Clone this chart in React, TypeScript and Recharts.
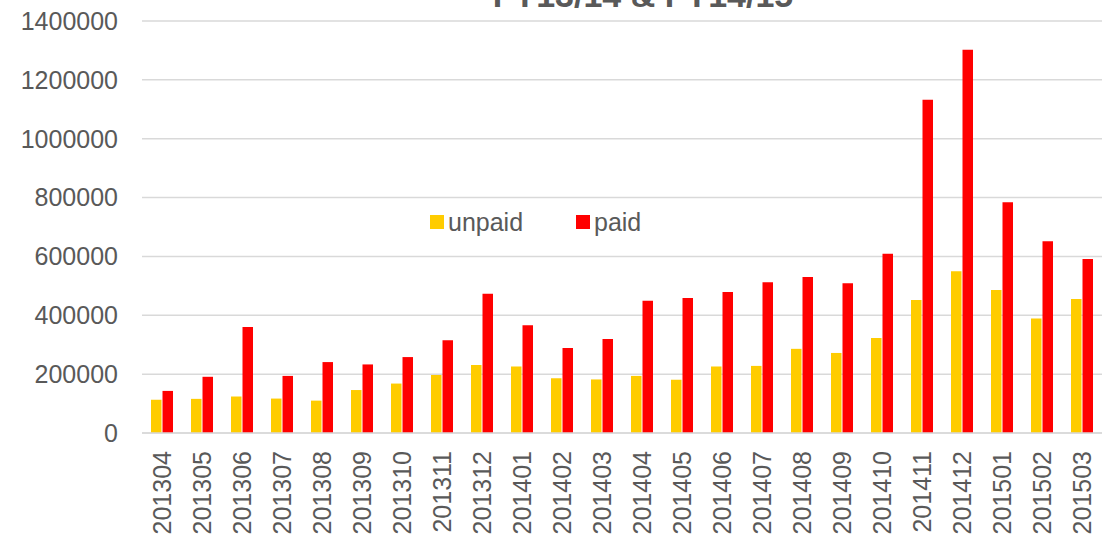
import React from 'react';
import { BarChart, Bar, XAxis, YAxis, CartesianGrid } from 'recharts';

const categories = ['201304','201305','201306','201307','201308','201309','201310','201311','201312','201401','201402','201403','201404','201405','201406','201407','201408','201409','201410','201411','201412','201501','201502','201503'];
const unpaid = [113000,116000,124000,117000,110000,146000,168000,197000,231000,226000,186000,182000,194000,181000,226000,228000,286000,272000,323000,452000,550000,486000,389000,455000];
const paid = [143000,191000,360000,194000,241000,233000,258000,315000,473000,366000,289000,319000,449000,459000,479000,512000,530000,509000,609000,1132000,1302000,784000,652000,591000];
const yTicks = [0,200000,400000,600000,800000,1000000,1200000,1400000];
const title = 'FY13/14 & FY14/15';
const seriesNames = ['unpaid', 'paid'];
const seriesColors = ['#FFCC00', '#FF0000'];

const data = categories.map((c, i) => ({ month: c, unpaid: unpaid[i], paid: paid[i] }));

const FONT = '"Liberation Sans", Arial, sans-serif';
const TEXT = '#595959';

const XTick = (props: any) => {
  const { x, y, payload } = props;
  return (
    <text x={x} y={y} transform={`rotate(-90, ${x}, ${y})`} textAnchor="end" dominantBaseline="central" fill={TEXT} fontSize={25} fontFamily={FONT}>
      {payload.value}
    </text>
  );
};

export default function App() {
  return (
    <div style={{ position: 'absolute', left: 0, top: 0, width: 1110, height: 539, background: '#fff', overflow: 'hidden' }}>
      <BarChart width={1110} height={539} data={data} margin={{ top: 21, right: 8, left: 0, bottom: 0 }} barGap={1} barSize={10.5}>
        <CartesianGrid vertical={false} stroke="#d9d9d9" strokeWidth={1.5} />
        <XAxis dataKey="month" interval={0} height={106} tick={<XTick />} tickLine={false} tickSize={0} tickMargin={18} axisLine={{ stroke: '#d9d9d9', strokeWidth: 1.5 }} />
        <YAxis width={142} domain={[0, 1400000]} ticks={yTicks} interval={0} tickLine={false} axisLine={false} tickSize={0} tickMargin={24} tick={{ fill: TEXT, fontSize: 25, fontFamily: FONT }} />
        <Bar dataKey="unpaid" name="unpaid" fill={seriesColors[0]} isAnimationActive={false} />
        <Bar dataKey="paid" name="paid" fill={seriesColors[1]} isAnimationActive={false} />
      </BarChart>
      <div style={{ position: 'absolute', left: 430, top: 207, width: 300, height: 30, fontFamily: FONT, fontSize: 25, color: TEXT }}>
        <div style={{ position: 'absolute', left: 0, top: 8, width: 14, height: 14, background: seriesColors[0] }} />
        <div style={{ position: 'absolute', left: 18, top: 0, lineHeight: '30px' }}>{seriesNames[0]}</div>
        <div style={{ position: 'absolute', left: 146, top: 8, width: 14, height: 14, background: seriesColors[1] }} />
        <div style={{ position: 'absolute', left: 164, top: 0, lineHeight: '30px' }}>{seriesNames[1]}</div>
      </div>
      <svg width={1110} height={40} style={{ position: 'absolute', left: 0, top: 0, pointerEvents: 'none' }}>
        <text x={643} y={7} textAnchor="middle" fontSize={34} fontWeight="bold" fill={TEXT} fontFamily={FONT}>{title}</text>
      </svg>
    </div>
  );
}
